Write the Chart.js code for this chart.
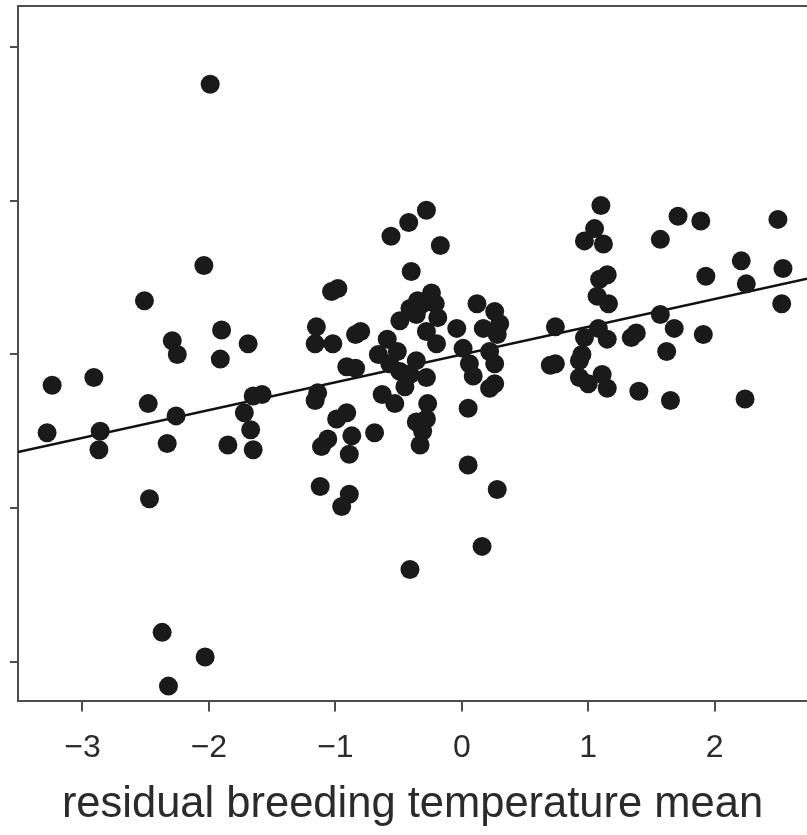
<!DOCTYPE html>
<html lang="en">
<head>
    <meta charset="UTF-8">
    <title>residual breeding temperature mean</title>
    <script src="https://cdn.jsdelivr.net/npm/chart.js"></script>
    <style>
        body { margin: 0; background: #fff; }
        #wrap { width: 807px; height: 835px; }
    </style>
</head>
<body>
    <div id="wrap"><canvas id="myChart"></canvas></div>

    <script>
        // residual breeding temperature mean (x) against the response (y, unlabelled)
        const tempX = [
            -1.99, -2.04, -2.51, -3.24, -2.91, -3.28, -2.86, -2.87, -2.29, -2.25,
            -2.48, -2.26, -2.33, -1.90, -1.91, -1.69, -1.65, -1.58, -1.72, -1.67,
            -1.85, -1.65, -2.47, -2.37, -2.03, -2.32,
            -0.28, -0.42, -0.56, -0.17, -0.40, -0.98, -1.03, -1.15, -1.16, -1.02,
            -0.80, -0.84, -0.59, -0.49, -0.41, -0.35, -0.66, -0.51, -0.91, -0.84,
            -0.49, -0.41, -0.63, -0.53, -1.14, -1.16, -0.99, -0.91, -1.11, -1.06,
            -0.87, -0.89, -0.69, -1.12, -0.89, -0.95, -0.41, -0.57,
            -0.24, -0.21, -0.31, -0.19, -0.36, -0.28, -0.20, -0.36, -0.28, -0.45,
            -0.04, 0.01, 0.12, 0.26, 0.30, 0.17, 0.28, 0.22, 0.26, 0.06,
            0.09, 0.26, 0.22, 0.05, -0.27, -0.28, -0.36, -0.31, -0.33, 0.05,
            0.28, 0.16,
            1.10, 1.05, 0.97, 1.12, 1.71, 1.89, 2.50, 1.57, 2.21, 2.54,
            2.25, 1.93, 2.53, 1.15, 1.09, 1.07, 1.16, 0.74, 1.57, 1.68,
            1.91, 1.38, 1.34, 1.08, 1.15, 0.97, 0.95, 0.70, 0.74, 1.62,
            0.93, 0.93, 1.00, 1.11, 1.15, 1.40, 1.65, 2.24
        ];
        const responseY = [
            1.76, 0.58, 0.35, -0.20, -0.15, -0.51, -0.50, -0.62, 0.09, 0.00,
            -0.32, -0.40, -0.58, 0.16, -0.03, 0.07, -0.27, -0.26, -0.38, -0.49,
            -0.59, -0.62, -0.94, -1.81, -1.97, -2.16,
            0.94, 0.86, 0.77, 0.71, 0.54, 0.43, 0.41, 0.18, 0.07, 0.07,
            0.15, 0.13, 0.10, 0.22, 0.30, 0.35, 0.00, 0.02, -0.08, -0.09,
            -0.11, -0.13, -0.26, -0.32, -0.25, -0.30, -0.42, -0.38, -0.60, -0.55,
            -0.53, -0.65, -0.51, -0.86, -0.91, -0.99, -1.40, -0.06,
            0.40, 0.33, 0.33, 0.24, 0.26, 0.15, 0.07, -0.04, -0.15, -0.21,
            0.17, 0.04, 0.33, 0.28, 0.20, 0.17, 0.13, 0.02, -0.06, -0.06,
            -0.14, -0.19, -0.22, -0.35, -0.32, -0.42, -0.44, -0.50, -0.59, -0.72,
            -0.88, -1.25,
            0.97, 0.82, 0.74, 0.72, 0.90, 0.87, 0.88, 0.75, 0.61, 0.56,
            0.46, 0.51, 0.33, 0.52, 0.49, 0.38, 0.33, 0.18, 0.26, 0.17,
            0.13, 0.14, 0.11, 0.17, 0.10, 0.11, 0.00, -0.07, -0.06, 0.02,
            -0.04, -0.15, -0.19, -0.13, -0.22, -0.24, -0.30, -0.29
        ];
        // fitted regression line: [intercept, slope]
        const fitLine = [0.0, 0.181];
        const xTicks = [-3, -2, -1, 0, 1, 2];
        const xRange = [-3.51, 2.73];
        const yRange = [-2.26, 2.27];

        const points = tempX.map((x, i) => ({ x: x, y: responseY[i] }));
        const fitPoints = xRange.map(x => ({ x: x, y: fitLine[0] + fitLine[1] * x }));

        const axisColor = '#4d4d4d';
        const textColor = '#2b2b2b';
        const fontFamily = '"Liberation Sans", Arial, Helvetica, sans-serif';

        const ctx = document.getElementById('myChart').getContext('2d');
        const myChart = new Chart(ctx, {
            type: 'scatter',
            data: {
                datasets: [{
                    data: points,
                    backgroundColor: '#1a1a1a',
                    borderWidth: 0,
                    pointRadius: 9.5,
                    pointHoverRadius: 9.5
                }, {
                    type: 'line',
                    data: fitPoints,
                    borderColor: '#111111',
                    borderWidth: 2.5,
                    pointRadius: 0,
                    fill: false
                }]
            },
            options: {
                responsive: true,
                maintainAspectRatio: false,
                animation: false,
                layout: { autoPadding: false, padding: { left: 10, top: 6, right: 0, bottom: 0 } },
                plugins: {
                    legend: { display: false },
                    tooltip: { enabled: false }
                },
                scales: {
                    x: {
                        type: 'linear',
                        position: 'bottom',
                        min: xRange[0],
                        max: xRange[1],
                        afterBuildTicks: axis => { axis.ticks = xTicks.map(v => ({ value: v })); },
                        ticks: {
                            color: textColor,
                            padding: 18,
                            font: { family: fontFamily, size: 32 },
                            callback: v => String(v).replace('-', '\u2212')
                        },
                        grid: {
                            drawOnChartArea: false,
                            tickLength: 10,
                            color: axisColor,
                            lineWidth: 2
                        },
                        border: { color: axisColor, width: 2 },
                        title: {
                            display: true,
                            text: 'residual breeding temperature mean',
                            color: textColor,
                            font: { family: fontFamily, size: 43.5, lineHeight: 0.9 },
                            padding: { top: 0, bottom: 10 }
                        }
                    },
                    x2: {
                        type: 'linear',
                        position: 'top',
                        min: xRange[0],
                        max: xRange[1],
                        ticks: { display: false },
                        grid: { display: false, drawTicks: false },
                        border: { color: axisColor, width: 2 }
                    },
                    y: {
                        min: yRange[0],
                        max: yRange[1],
                        ticks: { display: false, stepSize: 1, includeBounds: false },
                        grid: {
                            drawOnChartArea: false,
                            tickLength: 8,
                            color: axisColor,
                            lineWidth: 2
                        },
                        border: { color: axisColor, width: 2 }
                    }
                }
            }
        });
    </script>
</body>
</html>
